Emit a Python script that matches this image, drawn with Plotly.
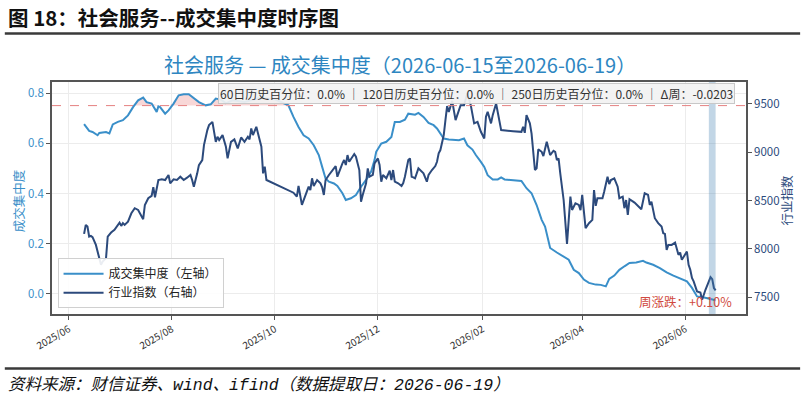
import pandas as pd
import numpy as np
import plotly.graph_objects as go

# ---------------- data ----------------
conc_dates = [
    "2025-06-10", "2025-06-11", "2025-06-13", "2025-06-15", "2025-06-18", "2025-06-19", "2025-06-23", "2025-06-25",
    "2025-06-27", "2025-06-30", "2025-07-03", "2025-07-06", "2025-07-09", "2025-07-12", "2025-07-15", "2025-07-17",
    "2025-07-20", "2025-07-23", "2025-07-24", "2025-07-25", "2025-07-28", "2025-07-30", "2025-08-02", "2025-08-05",
    "2025-08-08", "2025-08-11", "2025-08-14", "2025-08-17", "2025-08-21", "2025-08-24", "2025-08-27", "2025-08-30",
    "2025-09-02", "2025-09-06", "2025-09-13", "2025-09-22", "2025-10-01", "2025-10-07", "2025-10-09", "2025-10-12",
    "2025-10-15", "2025-10-18", "2025-10-21", "2025-10-24", "2025-10-27", "2025-10-29", "2025-10-31", "2025-11-02",
    "2025-11-05", "2025-11-07", "2025-11-10", "2025-11-12", "2025-11-15", "2025-11-18", "2025-11-21", "2025-11-24",
    "2025-11-27", "2025-11-29", "2025-11-30", "2025-12-03", "2025-12-06", "2025-12-09", "2025-12-11", "2025-12-14",
    "2025-12-17", "2025-12-19", "2025-12-23", "2025-12-25", "2025-12-28", "2025-12-31", "2026-01-03", "2026-01-05",
    "2026-01-07", "2026-01-09", "2026-01-12", "2026-01-15", "2026-01-18", "2026-01-21", "2026-01-23", "2026-01-26",
    "2026-01-28", "2026-01-31", "2026-02-02", "2026-02-04", "2026-02-07", "2026-02-10", "2026-02-12", "2026-02-14",
    "2026-02-20", "2026-02-24", "2026-02-27", "2026-03-02", "2026-03-05", "2026-03-08", "2026-03-10", "2026-03-13",
    "2026-03-17", "2026-03-21", "2026-03-24", "2026-03-27", "2026-03-30", "2026-04-02", "2026-04-05", "2026-04-09",
    "2026-04-12", "2026-04-15", "2026-04-17", "2026-04-20", "2026-04-23", "2026-04-26", "2026-04-29", "2026-05-03",
    "2026-05-07", "2026-05-09", "2026-05-13", "2026-05-17", "2026-05-21", "2026-05-25", "2026-05-29", "2026-06-02",
    "2026-06-05", "2026-06-08", "2026-06-11", "2026-06-14", "2026-06-19",
]
conc_values = [
    0.676, 0.668, 0.649, 0.645, 0.632, 0.641, 0.645, 0.639,
    0.675, 0.685, 0.692, 0.711, 0.744, 0.771, 0.782, 0.764,
    0.758, 0.725, 0.747, 0.744, 0.718, 0.731, 0.758, 0.791,
    0.795, 0.795, 0.778, 0.764, 0.751, 0.755, 0.778, 0.774,
    0.760, 0.771, 0.764, 0.780, 0.775, 0.758, 0.751, 0.705,
    0.665, 0.632, 0.619, 0.592, 0.553, 0.506, 0.460, 0.447,
    0.440, 0.430, 0.401, 0.374, 0.381, 0.394, 0.427, 0.454,
    0.487, 0.533, 0.566, 0.599, 0.606, 0.625, 0.685, 0.685,
    0.694, 0.718, 0.714, 0.721, 0.705, 0.681, 0.672, 0.659,
    0.639, 0.619, 0.615, 0.612, 0.612, 0.619, 0.592, 0.575,
    0.553, 0.526, 0.506, 0.473, 0.456, 0.456, 0.464, 0.456,
    0.454, 0.450, 0.421, 0.401, 0.354, 0.295, 0.268, 0.183,
    0.165, 0.149, 0.136, 0.096, 0.083, 0.057, 0.044, 0.037,
    0.036, 0.030, 0.060, 0.073, 0.096, 0.110, 0.123, 0.125,
    0.132, 0.125, 0.116, 0.103, 0.086, 0.073, 0.063, 0.050,
    0.024, -0.010, -0.012, -0.016, -0.025,
]

idx_dates = [
    "2025-06-10", "2025-06-11", "2025-06-12", "2025-06-13", "2025-06-14", "2025-06-15", "2025-06-17", "2025-06-19",
    "2025-06-20", "2025-06-21", "2025-06-23", "2025-06-24", "2025-06-26", "2025-06-28", "2025-06-30", "2025-07-01",
    "2025-07-02", "2025-07-03", "2025-07-04", "2025-07-06", "2025-07-08", "2025-07-10", "2025-07-12", "2025-07-13",
    "2025-07-15", "2025-07-16", "2025-07-18", "2025-07-20", "2025-07-21", "2025-07-22", "2025-07-23", "2025-07-24",
    "2025-07-26", "2025-07-28", "2025-07-30", "2025-07-31", "2025-08-02", "2025-08-04", "2025-08-06", "2025-08-08",
    "2025-08-10", "2025-08-12", "2025-08-13", "2025-08-14", "2025-08-16", "2025-08-17", "2025-08-19", "2025-08-20",
    "2025-08-22", "2025-08-23", "2025-08-25", "2025-08-27", "2025-08-28", "2025-08-29", "2025-08-31", "2025-09-02",
    "2025-09-03", "2025-09-05", "2025-09-07", "2025-09-09", "2025-09-11", "2025-09-13", "2025-09-15", "2025-09-16",
    "2025-09-17", "2025-09-18", "2025-09-20", "2025-09-22", "2025-09-23", "2025-09-24", "2025-09-25", "2025-09-26",
    "2025-09-28", "2025-10-01", "2025-10-05", "2025-10-08", "2025-10-12", "2025-10-14", "2025-10-15", "2025-10-17",
    "2025-10-19", "2025-10-21", "2025-10-22", "2025-10-23", "2025-10-24", "2025-10-26", "2025-10-28", "2025-10-29",
    "2025-10-30", "2025-10-31", "2025-11-02", "2025-11-04", "2025-11-06", "2025-11-07", "2025-11-08", "2025-11-10",
    "2025-11-11", "2025-11-12", "2025-11-13", "2025-11-14", "2025-11-17", "2025-11-18", "2025-11-20", "2025-11-21",
    "2025-11-22", "2025-11-24", "2025-11-25", "2025-11-26", "2025-11-28", "2025-11-29", "2025-12-01", "2025-12-02",
    "2025-12-03", "2025-12-04", "2025-12-06", "2025-12-08", "2025-12-09", "2025-12-10", "2025-12-11", "2025-12-13",
    "2025-12-15", "2025-12-16", "2025-12-17", "2025-12-19", "2025-12-20", "2025-12-21", "2025-12-22", "2025-12-23",
    "2025-12-25", "2025-12-26", "2025-12-28", "2025-12-30", "2025-12-31", "2026-01-02", "2026-01-04", "2026-01-05",
    "2026-01-06", "2026-01-07", "2026-01-09", "2026-01-10", "2026-01-11", "2026-01-12", "2026-01-14", "2026-01-16",
    "2026-01-18", "2026-01-19", "2026-01-21", "2026-01-23", "2026-01-25", "2026-01-26", "2026-01-27", "2026-01-29",
    "2026-01-30", "2026-01-31", "2026-02-02", "2026-02-03", "2026-02-04", "2026-02-06", "2026-02-07", "2026-02-09",
    "2026-02-12", "2026-02-15", "2026-02-19", "2026-02-24", "2026-02-25", "2026-02-26", "2026-02-27", "2026-03-01",
    "2026-03-02", "2026-03-04", "2026-03-05", "2026-03-06", "2026-03-08", "2026-03-09", "2026-03-11", "2026-03-12",
    "2026-03-13", "2026-03-15", "2026-03-16", "2026-03-17", "2026-03-18", "2026-03-19", "2026-03-21", "2026-03-23",
    "2026-03-25", "2026-03-26", "2026-03-28", "2026-03-30", "2026-03-31", "2026-04-01", "2026-04-02", "2026-04-03",
    "2026-04-05", "2026-04-07", "2026-04-08", "2026-04-09", "2026-04-10", "2026-04-13", "2026-04-14", "2026-04-16",
    "2026-04-17", "2026-04-18", "2026-04-20", "2026-04-22", "2026-04-23", "2026-04-25", "2026-04-26", "2026-04-27",
    "2026-04-28", "2026-04-29", "2026-05-02", "2026-05-05", "2026-05-06", "2026-05-08", "2026-05-10", "2026-05-11",
    "2026-05-12", "2026-05-14", "2026-05-16", "2026-05-18", "2026-05-19", "2026-05-20", "2026-05-21", "2026-05-22",
    "2026-05-24", "2026-05-26", "2026-05-27", "2026-05-28", "2026-05-29", "2026-05-30", "2026-06-02", "2026-06-03",
    "2026-06-04", "2026-06-05", "2026-06-06", "2026-06-07", "2026-06-08", "2026-06-10", "2026-06-11", "2026-06-13",
    "2026-06-15", "2026-06-16", "2026-06-17", "2026-06-18", "2026-06-19",
]
idx_values = [
    8155, 8248, 8231, 8128, 8135, 8121, 8042, 7922,
    7836, 7870, 7905, 8128, 8169, 8197, 8248, 8272,
    8238, 8266, 8248, 8282, 8368, 8420, 8402, 8375,
    8307, 8454, 8523, 8547, 8636, 8533, 8608, 8711,
    8718, 8711, 8763, 8677, 8718, 8711, 8745, 8711,
    8735, 8763, 8711, 8642, 8780, 8865, 8917, 9071,
    9226, 9277, 9311, 9105, 9157, 9123, 9174, 9054,
    8934, 9105, 9130, 9037, 9150, 9105, 9157, 9130,
    9243, 9174, 9260, 9140, 9054, 8780, 8848, 8711,
    8694, 8677, 8642, 8615, 8580, 8539, 8649, 8454,
    8557, 8642, 8608, 8729, 8649, 8711, 8677, 8636,
    8557, 8711, 8763, 8814, 8855, 8745, 8797, 8883,
    8917, 8866, 8968, 8899, 8979, 8951, 8814, 8488,
    8557, 8677, 8831, 8745, 8763, 8883, 8934, 8866,
    8694, 8763, 8729, 8807, 8711, 8814, 8694, 8677,
    8649, 8680, 8745, 8917, 8934, 8745, 8739, 8729,
    8831, 8814, 8780, 8694, 8763, 8814, 8855, 8899,
    8986, 9020, 9174, 9329, 9473, 9414, 9527, 9329,
    9449, 9483, 9483, 9609, 9483, 9397, 9295, 9311,
    9260, 9208, 9140, 9363, 9414, 9295, 9380, 9500,
    9226, 9218, 9215, 9208, 9260, 9198, 9380, 9295,
    9191, 8814, 8831, 9027, 9002, 8958, 9105, 9037,
    8968, 9013, 9002, 8917, 8934, 8780, 8505, 8053,
    8539, 8402, 8471, 8454, 8400, 8557, 8385, 8214,
    8266, 8300, 8608, 8444, 8523, 8523, 8591, 8745,
    8670, 8711, 8729, 8642, 8523, 8539, 8420, 8505,
    8351, 8513, 8478, 8420, 8410, 8574, 8557, 8454,
    8488, 8317, 8266, 8231, 8162, 8155, 7991, 8042,
    8042, 8066, 7991, 7939, 7963, 7888, 7973, 7836,
    7785, 7700, 7665, 7620, 7562, 7551, 7476, 7579,
    7665, 7710, 7689, 7597, 7572,
]

threshold = 0.75
week_start, week_end = "2026-06-15", "2026-06-19"
x_tick_labels = ["2025/06", "2025/08", "2025/10", "2025/12", "2026/02", "2026/04", "2026/06"]
left_ticks = [0.0, 0.2, 0.4, 0.6, 0.8]
right_ticks = [7500, 8000, 8500, 9000, 9500]

header_text = "图 18：社会服务--成交集中度时序图"
title_text = "社会服务 — 成交集中度（2026-06-15至2026-06-19）"
info_text = "60日历史百分位：0.0% ｜ 120日历史百分位：0.0% ｜ 250日历史百分位：0.0% ｜ Δ周：-0.0203"
week_text = "周涨跌：+0.10%"
source_text = "资料来源：财信证券、wind、ifind（数据提取日：2026-06-19）"

# ---------------- figure ----------------
FONT = "Noto Sans CJK SC"
C_CONC = "#3a8fc9"
C_IDX = "#2c4a7c"
C_TITLE = "#2e86c1"

cd = pd.to_datetime(conc_dates)
cv = np.array(conc_values)
idd = pd.to_datetime(idx_dates)

fig = go.Figure()

# pink fill above threshold
fig.add_trace(go.Scatter(x=cd, y=[threshold] * len(cd), mode="lines",
                         line=dict(width=0, color="rgba(0,0,0,0)"),
                         showlegend=False, hoverinfo="skip"))
fig.add_trace(go.Scatter(x=cd, y=np.maximum(cv, threshold), mode="lines",
                         line=dict(width=0, color="rgba(0,0,0,0)"),
                         fill="tonexty", fillcolor="rgba(230,110,110,0.28)",
                         showlegend=False, hoverinfo="skip"))

fig.add_trace(go.Scatter(x=cd, y=cv, mode="lines", name="成交集中度（左轴）",
                         line=dict(color=C_CONC, width=2)))
fig.add_trace(go.Scatter(x=idd, y=idx_values, mode="lines", name="行业指数（右轴）",
                         line=dict(color=C_IDX, width=2), yaxis="y2"))

# threshold dashed line
fig.add_shape(type="line", xref="paper", yref="y", x0=0, x1=1, y0=threshold, y1=threshold,
              line=dict(color="#e58080", width=1, dash="dash"), layer="above")
# current week band
fig.add_vrect(x0=week_start, x1=week_end, fillcolor="rgba(70,130,180,0.33)",
              line_width=0, layer="above")

# header / footer rules
fig.add_shape(type="line", xref="paper", yref="paper", x0=-0.068, x1=1.078, y0=1.209, y1=1.209,
              line=dict(color="#3a3a3a", width=2.5))
fig.add_shape(type="line", xref="paper", yref="paper", x0=-0.068, x1=1.078, y0=-0.235, y1=-0.235,
              line=dict(color="#3a3a3a", width=2.5))

fig.add_annotation(text="<b>" + header_text + "</b>", xref="paper", yref="paper",
                   x=-0.066, y=1.28, xanchor="left", yanchor="middle", showarrow=False,
                   font=dict(family=FONT, size=20.5, color="#111111"))
fig.add_annotation(text=title_text, xref="paper", yref="paper",
                   x=0.501, y=1.076, xanchor="center", yanchor="middle", showarrow=False,
                   font=dict(family=FONT, size=20, color=C_TITLE))
fig.add_annotation(text=info_text, xref="paper", yref="paper",
                   x=0.984, y=0.995, xanchor="right", yanchor="top", showarrow=False,
                   font=dict(family=FONT, size=12, color="#333333"),
                   bgcolor="rgba(242,242,242,0.92)", bordercolor="#c8c8c8", borderwidth=1, borderpad=1)
fig.add_annotation(text=week_text, xref="paper", yref="paper",
                   x=0.983, y=0.052, xanchor="right", yanchor="middle", showarrow=False,
                   font=dict(family=FONT, size=12.5, color="#d04a40"))
fig.add_annotation(text="<i>" + source_text + "</i>", xref="paper", yref="paper",
                   x=-0.066, y=-0.304, xanchor="left", yanchor="middle", showarrow=False,
                   font=dict(family="Liberation Mono, " + FONT, size=16.5, color="#111111"))
fig.add_annotation(text="成交集中度", xref="paper", yref="paper", textangle=-90,
                   x=-0.049, y=0.49, xanchor="center", yanchor="middle", showarrow=False,
                   font=dict(family=FONT, size=12.5, color=C_CONC))
fig.add_annotation(text="行业指数", xref="paper", yref="paper", textangle=-90,
                   x=1.058, y=0.49, xanchor="center", yanchor="middle", showarrow=False,
                   font=dict(family=FONT, size=12.5, color=C_IDX))

tick_vals = pd.to_datetime([s.replace("/", "-") + "-01" for s in x_tick_labels])

fig.update_layout(
    width=804, height=402,
    margin=dict(l=52, r=58, t=82, b=88),
    paper_bgcolor="white", plot_bgcolor="white",
    font=dict(family=FONT, size=11, color="#333333"),
    showlegend=True,
    legend=dict(x=0.008, y=0.025, xanchor="left", yanchor="bottom", traceorder="normal",
                bgcolor="rgba(255,255,255,0.9)", bordercolor="#d0d0d0", borderwidth=1,
                font=dict(family=FONT, size=12, color="#222222"),
                tracegroupgap=0, itemwidth=40),
    xaxis=dict(range=["2025-05-22", "2026-07-07"], tickvals=tick_vals, ticktext=x_tick_labels,
               tickangle=-30, tickfont=dict(size=10, color="#333333"),
               showgrid=True, gridcolor="#ececec", gridwidth=1,
               showline=True, linecolor="#555555", linewidth=1.5, mirror=True,
               ticks="outside", ticklen=4, tickcolor="#555555", zeroline=False),
    yaxis=dict(range=[-0.08, 0.844], tickvals=left_ticks, tickformat=".1f",
               tickfont=dict(size=11.5, color=C_CONC),
               showgrid=True, gridcolor="#ececec", gridwidth=1,
               showline=True, linecolor="#555555", linewidth=1.5, mirror=True,
               ticks="outside", ticklen=4, tickcolor="#555555", zeroline=False),
    yaxis2=dict(range=[7329, 9722], tickvals=right_ticks, overlaying="y", side="right",
                tickfont=dict(size=11.5, color=C_IDX), showgrid=False, zeroline=False,
                showline=True, linecolor="#555555", linewidth=1.5,
                ticks="outside", ticklen=4, tickcolor="#555555"),
)

fig.write_html("out.html")
